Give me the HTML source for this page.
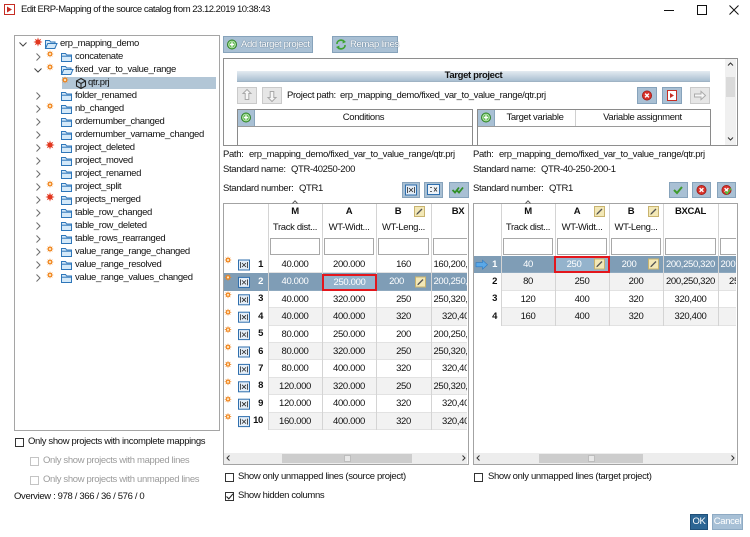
<!DOCTYPE html>
<html><head><meta charset="utf-8"><title>Edit ERP-Mapping</title><style>
*{box-sizing:border-box}
html,body{margin:0;padding:0}
body{width:750px;height:537px;overflow:hidden;background:#fff;font-family:"Liberation Sans",Arial,sans-serif;font-size:9.5px;color:#111;letter-spacing:-0.35px;position:relative}
.a{position:absolute;white-space:nowrap;line-height:12px}
.c{text-align:center}
.b{font-weight:bold}
.btn{position:absolute;background:#a9c0d4;border:1px solid #87a3bb}
.gbtn{position:absolute;background:#e6e6e6;border:1px solid #cacaca}
.cb{position:absolute;width:9px;height:9px;border:1px solid #333;background:#fff}
.vl{position:absolute;width:1px;background:#d4d4d4;z-index:3}
.row{position:absolute;height:17.4px;overflow:hidden}
.cell{position:absolute;top:0;height:100%;border-bottom:1px solid #e2e2e2;text-align:center;line-height:17px;white-space:nowrap;overflow:hidden}
.sel{background:#7f9db6;color:#fff}
.alt{background:#f2f2f2}
.flt{position:absolute;top:238px;height:17px;border:1px solid #a8a8a8;background:#fff}
.sb{position:absolute;background:#ededed}
.th{position:absolute;background:#cdcdcd}
.bt{color:#fff;text-shadow:0 0 1px #5f7a92,0 0 1px #5f7a92}
</style></head><body>

<!-- title -->
<div class="a" style="left:21px;top:4px;letter-spacing:-0.5px">Edit ERP-Mapping of the source catalog from 23.12.2019 10:38:43</div>

<!-- tree -->
<div style="position:absolute;left:14px;top:35px;width:206px;height:396px;border:1px solid #a5a5a5"></div>
<div style="position:absolute;left:62px;top:77px;width:154px;height:12px;background:#b2c6d6"></div>
<div class="a" style="left:60px;top:38px">erp_mapping_demo</div>
<div class="a" style="left:75px;top:51px">concatenate</div>
<div class="a" style="left:75px;top:64px">fixed_var_to_value_range</div>
<div class="a" style="left:88px;top:77px">qtr.prj</div>
<div class="a" style="left:75px;top:90px">folder_renamed</div>
<div class="a" style="left:75px;top:103px">nb_changed</div>
<div class="a" style="left:75px;top:116px">ordernumber_changed</div>
<div class="a" style="left:75px;top:129px">ordernumber_varname_changed</div>
<div class="a" style="left:75px;top:142px">project_deleted</div>
<div class="a" style="left:75px;top:155px">project_moved</div>
<div class="a" style="left:75px;top:168px">project_renamed</div>
<div class="a" style="left:75px;top:181px">project_split</div>
<div class="a" style="left:75px;top:194px">projects_merged</div>
<div class="a" style="left:75px;top:207px">table_row_changed</div>
<div class="a" style="left:75px;top:220px">table_row_deleted</div>
<div class="a" style="left:75px;top:233px">table_rows_rearranged</div>
<div class="a" style="left:75px;top:246px">value_range_range_changed</div>
<div class="a" style="left:75px;top:259px">value_range_resolved</div>
<div class="a" style="left:75px;top:272px">value_range_values_changed</div>

<!-- left bottom options -->
<div class="cb" style="left:15px;top:438px"></div>
<div class="a" style="left:28px;top:436px">Only show projects with incomplete mappings</div>
<div class="cb" style="left:30px;top:457px;border-color:#c4c4c4"></div>
<div class="a" style="left:43px;top:455px;color:#9b9b9b">Only show projects with mapped lines</div>
<div class="cb" style="left:30px;top:476px;border-color:#c4c4c4"></div>
<div class="a" style="left:43px;top:474px;color:#9b9b9b">Only show projects with unmapped lines</div>
<div class="a" style="left:14px;top:491px">Overview : 978 / 366 / 36 / 576 / 0</div>

<!-- top buttons -->
<div class="btn" style="left:223px;top:36px;width:90px;height:17px"></div>
<div class="a bt" style="left:241px;top:38.5px">Add target project</div>
<div class="btn" style="left:332px;top:36px;width:66px;height:17px"></div>
<div class="a bt" style="left:350px;top:38.5px">Remap lines</div>

<!-- target project box -->
<div style="position:absolute;left:223px;top:58px;width:515px;height:88px;border:1px solid #8e8e8e;background:#fff"></div>
<div style="position:absolute;left:725px;top:59px;width:11px;height:86px;background:#f0f0f0"></div>
<div style="position:absolute;left:726px;top:77px;width:9px;height:20px;background:#dadada"></div>
<div style="position:absolute;left:237px;top:71px;width:473px;height:11px;background:linear-gradient(#e4ebf1,#a9bfd1);border-bottom:1px solid #9fb3c4"></div>
<div class="a b c" style="left:237px;top:70px;width:473px">Target project</div>
<div class="gbtn" style="left:237px;top:87px;width:20px;height:17px"></div>
<div class="gbtn" style="left:262px;top:87px;width:20px;height:17px"></div>
<div class="a" style="left:287px;top:90px">Project path:</div>
<div class="a" style="left:340px;top:90px">erp_mapping_demo/fixed_var_to_value_range/qtr.prj</div>
<div class="btn" style="left:637px;top:87px;width:20px;height:17px"></div>
<div class="btn" style="left:662px;top:87px;width:20px;height:17px"></div>
<div class="gbtn" style="left:690px;top:87px;width:20px;height:17px"></div>

<div style="position:absolute;left:237px;top:109px;width:236px;height:36px;border:1px solid #8a8a8a;border-bottom:none"></div>
<div style="position:absolute;left:238px;top:110px;width:17px;height:16px;background:#a9c0d4;border-right:1px solid #8aa5bc"></div>
<div style="position:absolute;left:238px;top:126px;width:234px;height:1px;background:#9a9a9a"></div>
<div class="a c" style="left:255px;top:111.5px;width:217px">Conditions</div>

<div style="position:absolute;left:477px;top:109px;width:234px;height:36px;border:1px solid #8a8a8a;border-bottom:none"></div>
<div style="position:absolute;left:478px;top:110px;width:17px;height:16px;background:#a9c0d4;border-right:1px solid #8aa5bc"></div>
<div style="position:absolute;left:478px;top:126px;width:232px;height:1px;background:#9a9a9a"></div>
<div style="position:absolute;left:575px;top:110px;width:1px;height:16px;background:#d0d0d0"></div>
<div class="a c" style="left:495px;top:111.5px;width:80px">Target variable</div>
<div class="a c" style="left:575px;top:111.5px;width:135px">Variable assignment</div>

<!-- path info -->
<div class="a" style="left:223px;top:149px">Path:</div>
<div class="a" style="left:249px;top:149px">erp_mapping_demo/fixed_var_to_value_range/qtr.prj</div>
<div class="a" style="left:223px;top:164px">Standard name:</div>
<div class="a" style="left:291px;top:164px">QTR-40250-200</div>
<div class="a" style="left:223px;top:183px">Standard number:</div>
<div class="a" style="left:299px;top:183px">QTR1</div>
<div class="btn" style="left:402px;top:182px;width:18px;height:16px"></div>
<div class="btn" style="left:424px;top:182px;width:19px;height:16px"></div>
<div class="btn" style="left:449px;top:182px;width:20px;height:16px"></div>

<div class="a" style="left:473px;top:149px">Path:</div>
<div class="a" style="left:499px;top:149px">erp_mapping_demo/fixed_var_to_value_range/qtr.prj</div>
<div class="a" style="left:473px;top:164px">Standard name:</div>
<div class="a" style="left:541px;top:164px">QTR-40-250-200-1</div>
<div class="a" style="left:473px;top:183px">Standard number:</div>
<div class="a" style="left:549px;top:183px">QTR1</div>
<div class="btn" style="left:669px;top:182px;width:19px;height:16px"></div>
<div class="btn" style="left:692px;top:182px;width:19px;height:16px"></div>
<div class="btn" style="left:717px;top:182px;width:19px;height:16px"></div>

<!-- LEFT TABLE -->
<div style="position:absolute;left:223px;top:203px;width:246px;height:262px;border:1px solid #a3a3a3;background:#fff"></div>
<div class="a b c" style="left:268px;top:206px;width:54px">M</div>
<div class="a b c" style="left:322px;top:206px;width:54px">A</div>
<div class="a b c" style="left:371px;top:206px;width:54px">B</div>
<div class="a b c" style="left:431px;top:206px;width:54px">BX</div>
<div class="a c" style="left:268px;top:222px;width:54px">Track dist...</div>
<div class="a c" style="left:322px;top:222px;width:54px">WT-Widt...</div>
<div class="a c" style="left:376px;top:222px;width:55px">WT-Leng...</div>
<div class="flt" style="left:270px;width:50px"></div>
<div class="flt" style="left:324px;width:50px"></div>
<div class="flt" style="left:378px;width:51px"></div>
<div class="flt" style="left:433px;width:34px;border-right:none"></div>

<div class="row" style="left:224px;top:256px;width:243px">
 <div class="a b" style="left:0;top:2.7px;width:39px;text-align:right">1</div>
 <div class="cell" style="left:44px;width:54px">40.000</div><div class="cell" style="left:98px;width:54px">200.000</div><div class="cell" style="left:152px;width:55px">160</div><div class="cell" style="left:207px;width:54px">160,200,250</div>
</div>
<div class="row sel" style="left:224px;top:273.4px;width:243px">
 <div class="a b" style="left:0;top:2.7px;width:39px;text-align:right">2</div>
 <div class="cell" style="left:44px;width:54px;border-color:#8fa9bf">40.000</div><div class="cell" style="left:98px;width:54px;border-color:#8fa9bf"></div><div class="cell" style="left:152px;width:55px;padding-right:14px;border-color:#8fa9bf">200</div><div class="cell" style="left:207px;width:54px;border-color:#8fa9bf">200,250,320</div>
</div>
<div style="position:absolute;left:322px;top:274px;width:55px;height:17px;border:2px solid #e3161c;background:#94b3cc;color:#fff;text-align:center;line-height:13px;z-index:4;white-space:nowrap">250.000</div>
<div class="row" style="left:224px;top:290.8px;width:243px">
 <div class="a b" style="left:0;top:2.7px;width:39px;text-align:right">3</div>
 <div class="cell" style="left:44px;width:54px">40.000</div><div class="cell" style="left:98px;width:54px">320.000</div><div class="cell" style="left:152px;width:55px">250</div><div class="cell" style="left:207px;width:54px">250,320,400</div>
</div>
<div class="row" style="left:224px;top:308.2px;width:243px">
 <div class="a b" style="left:0;top:2.7px;width:39px;text-align:right">4</div>
 <div class="cell alt" style="left:44px;width:54px">40.000</div><div class="cell alt" style="left:98px;width:54px">400.000</div><div class="cell alt" style="left:152px;width:55px">320</div><div class="cell alt" style="left:207px;width:54px">320,400</div>
</div>
<div class="row" style="left:224px;top:325.6px;width:243px">
 <div class="a b" style="left:0;top:2.7px;width:39px;text-align:right">5</div>
 <div class="cell" style="left:44px;width:54px">80.000</div><div class="cell" style="left:98px;width:54px">250.000</div><div class="cell" style="left:152px;width:55px">200</div><div class="cell" style="left:207px;width:54px">200,250,320</div>
</div>
<div class="row" style="left:224px;top:343px;width:243px">
 <div class="a b" style="left:0;top:2.7px;width:39px;text-align:right">6</div>
 <div class="cell alt" style="left:44px;width:54px">80.000</div><div class="cell alt" style="left:98px;width:54px">320.000</div><div class="cell alt" style="left:152px;width:55px">250</div><div class="cell alt" style="left:207px;width:54px">250,320,400</div>
</div>
<div class="row" style="left:224px;top:360.4px;width:243px">
 <div class="a b" style="left:0;top:2.7px;width:39px;text-align:right">7</div>
 <div class="cell" style="left:44px;width:54px">80.000</div><div class="cell" style="left:98px;width:54px">400.000</div><div class="cell" style="left:152px;width:55px">320</div><div class="cell" style="left:207px;width:54px">320,400</div>
</div>
<div class="row" style="left:224px;top:377.8px;width:243px">
 <div class="a b" style="left:0;top:2.7px;width:39px;text-align:right">8</div>
 <div class="cell alt" style="left:44px;width:54px">120.000</div><div class="cell alt" style="left:98px;width:54px">320.000</div><div class="cell alt" style="left:152px;width:55px">250</div><div class="cell alt" style="left:207px;width:54px">250,320,400</div>
</div>
<div class="row" style="left:224px;top:395.2px;width:243px">
 <div class="a b" style="left:0;top:2.7px;width:39px;text-align:right">9</div>
 <div class="cell" style="left:44px;width:54px">120.000</div><div class="cell" style="left:98px;width:54px">400.000</div><div class="cell" style="left:152px;width:55px">320</div><div class="cell" style="left:207px;width:54px">320,400</div>
</div>
<div class="row" style="left:224px;top:412.6px;width:243px">
 <div class="a b" style="left:0;top:2.7px;width:39px;text-align:right">10</div>
 <div class="cell alt" style="left:44px;width:54px">160.000</div><div class="cell alt" style="left:98px;width:54px">400.000</div><div class="cell alt" style="left:152px;width:55px">320</div><div class="cell alt" style="left:207px;width:54px">320,400</div>
</div>
<div class="vl" style="left:268px;top:204px;height:226px"></div>
<div class="vl" style="left:322px;top:204px;height:226px"></div>
<div class="vl" style="left:376px;top:204px;height:226px"></div>
<div class="vl" style="left:431px;top:204px;height:226px"></div>
<div class="sb" style="left:224px;top:453px;width:243px;height:11px"></div>
<div class="th" style="left:282px;top:454px;width:130px;height:9px"></div>
<div style="position:absolute;left:344px;top:455px;width:7px;height:7px;background:#e8e8e8;border:1px solid #bdbdbd"></div>

<!-- RIGHT TABLE -->
<div style="position:absolute;left:473px;top:203px;width:265px;height:262px;border:1px solid #a3a3a3;background:#fff"></div>
<div class="a b c" style="left:501px;top:206px;width:54px">M</div>
<div class="a b c" style="left:550px;top:206px;width:54px">A</div>
<div class="a b c" style="left:604px;top:206px;width:54px">B</div>
<div class="a b c" style="left:663px;top:206px;width:55px">BXCAL</div>
<div class="a c" style="left:501px;top:222px;width:54px">Track dist...</div>
<div class="a c" style="left:555px;top:222px;width:54px">WT-Widt...</div>
<div class="a c" style="left:609px;top:222px;width:54px">WT-Leng...</div>
<div class="flt" style="left:503px;width:50px"></div>
<div class="flt" style="left:557px;width:50px"></div>
<div class="flt" style="left:611px;width:50px"></div>
<div class="flt" style="left:665px;width:51px"></div>
<div class="flt" style="left:720px;width:16px;border-right:none"></div>

<div class="row sel" style="left:474px;top:256px;width:262px">
 <div class="a b" style="left:0;top:2.7px;width:23px;text-align:right">1</div>
 <div class="cell" style="left:27px;width:54px;border-color:#8fa9bf">40</div><div class="cell" style="left:81px;width:54px;border-color:#8fa9bf"></div><div class="cell" style="left:135px;width:54px;padding-right:14px;border-color:#8fa9bf">200</div><div class="cell" style="left:189px;width:55px;border-color:#8fa9bf">200,250,320</div><div class="cell" style="left:244px;width:54px;border-color:#8fa9bf">200,250,320</div>
</div>
<div style="position:absolute;left:554px;top:256px;width:56px;height:17px;border:2px solid #e3161c;background:#94b3cc;color:#fff;line-height:13px;z-index:4;white-space:nowrap;padding-right:16px;text-align:center">250</div>
<div class="row" style="left:474px;top:273.4px;width:262px">
 <div class="a b" style="left:0;top:2.7px;width:23px;text-align:right">2</div>
 <div class="cell alt" style="left:27px;width:54px">80</div><div class="cell alt" style="left:81px;width:54px">250</div><div class="cell alt" style="left:135px;width:54px">200</div><div class="cell alt" style="left:189px;width:55px">200,250,320</div><div class="cell alt" style="left:244px;width:54px">250,320</div>
</div>
<div class="row" style="left:474px;top:290.8px;width:262px">
 <div class="a b" style="left:0;top:2.7px;width:23px;text-align:right">3</div>
 <div class="cell" style="left:27px;width:54px">120</div><div class="cell" style="left:81px;width:54px">400</div><div class="cell" style="left:135px;width:54px">320</div><div class="cell" style="left:189px;width:55px">320,400</div><div class="cell" style="left:244px;width:54px">320</div>
</div>
<div class="row" style="left:474px;top:308.2px;width:262px">
 <div class="a b" style="left:0;top:2.7px;width:23px;text-align:right">4</div>
 <div class="cell alt" style="left:27px;width:54px">160</div><div class="cell alt" style="left:81px;width:54px">400</div><div class="cell alt" style="left:135px;width:54px">320</div><div class="cell alt" style="left:189px;width:55px">320,400</div><div class="cell alt" style="left:244px;width:54px"></div>
</div>
<div class="vl" style="left:501px;top:204px;height:122px"></div>
<div class="vl" style="left:555px;top:204px;height:122px"></div>
<div class="vl" style="left:609px;top:204px;height:122px"></div>
<div class="vl" style="left:663px;top:204px;height:122px"></div>
<div class="vl" style="left:718px;top:204px;height:122px"></div>
<div class="sb" style="left:474px;top:453px;width:262px;height:11px"></div>
<div class="th" style="left:539px;top:454px;width:104px;height:9px"></div>
<div style="position:absolute;left:588px;top:455px;width:7px;height:7px;background:#e8e8e8;border:1px solid #bdbdbd"></div>

<!-- bottom checkboxes -->
<div class="cb" style="left:225px;top:473px"></div>
<div class="a" style="left:238px;top:471px">Show only unmapped lines (source project)</div>
<div class="cb" style="left:225px;top:492px"></div>
<div class="a" style="left:238px;top:490px">Show hidden columns</div>
<div class="cb" style="left:474px;top:473px"></div>
<div class="a" style="left:488px;top:471px">Show only unmapped lines (target project)</div>

<!-- OK / Cancel -->
<div style="position:absolute;left:690px;top:514px;width:18px;height:16px;background:#2d6694;border:1px solid #1f4f78"></div>
<div class="a c" style="left:690px;top:516px;width:18px;color:#fff">OK</div>
<div style="position:absolute;left:712px;top:514px;width:31px;height:16px;background:#a7c0d6;border:1px solid #8eaac3"></div>
<div class="a c" style="left:712px;top:516px;width:31px;color:#fff">Cancel</div>

<!-- ICON LAYER -->
<svg style="position:absolute;left:0;top:0;z-index:10" width="750" height="537" viewBox="0 0 750 537">
<defs>
<g id="fc"><path d="M0.5,1.5h4l1.2,1.5h4.8v6.5h-10z" fill="#d4e9f9" stroke="#2e76b9"/><path d="M0.5,4.2h10" stroke="#2e76b9"/></g>
<g id="fo"><path d="M0.5,9.5V1.5h4l1.2,1.5h4.3v1.7" fill="#d4e9f9" stroke="#2e76b9"/><path d="M0.5,9.5l2.2,-5h9.3l-2.2,5z" fill="#d4e9f9" stroke="#2e76b9"/></g>
<g id="chr"><path d="M0.5,0.5l3.5,3.5l-3.5,3.5" fill="none" stroke="#6d6d6d"/></g>
<g id="chd"><path d="M0.5,0.5l3.5,3.5l3.5,-3.5" fill="none" stroke="#444"/></g>
<polygon id="rs" points="4.6,0 2,0.85 3.25,3.25 0.85,2 0,4.6 -0.85,2 -3.25,3.25 -2,0.85 -4.6,0 -2,-0.85 -3.25,-3.25 -0.85,-2 0,-4.6 0.85,-2 3.25,-3.25 2,-0.85" fill="#e2371f"/>
<g id="os"><polygon points="3.7,0 1.75,0.72 2.6,2.6 0.72,1.75 0,3.7 -0.72,1.75 -2.6,2.6 -1.75,0.72 -3.7,0 -1.75,-0.72 -2.6,-2.6 -0.72,-1.75 0,-3.7 0.72,-1.75 2.6,-2.6 1.75,-0.72" fill="#f0841c"/><circle r="1.1" fill="#fde7c4"/></g>
<g id="ti"><rect x="0.5" y="0.5" width="11" height="10" fill="#e4eef8" stroke="#2f6fae"/><path d="M2.5,2.5v6M9.5,2.5v6M4,3.5l4,4M8,3.5l-4,4" stroke="#2a2a2a" stroke-width="0.8"/></g>
<g id="pe"><rect x="0.5" y="0.5" width="10" height="10" fill="#f3e8b6" stroke="#c8b36f"/><path d="M3.5,7.5l4.5,-4.5" stroke="#555" stroke-width="1.3"/><path d="M2.3,8.7l0.7,-1.8l1.1,1.1z" fill="#333"/></g>
<g id="gp"><circle r="4.6" fill="#5eb84f" stroke="#2e7d26" stroke-width="0.8"/><circle r="3.3" fill="none" stroke="#cfeec9" stroke-width="0.7"/><path d="M-2.2,0h4.4M0,-2.2v4.4" stroke="#fff" stroke-width="1.4"/></g>
<g id="rx"><circle r="4.6" fill="#d8322b" stroke="#991a14" stroke-width="0.8"/><path d="M-1.9,-1.9L1.9,1.9M1.9,-1.9L-1.9,1.9" stroke="#fff" stroke-width="1.4"/></g>
</defs>

<!-- title icon & controls -->
<rect x="4.5" y="4.5" width="10" height="10" fill="#fff" stroke="#c62d23"/>
<path d="M7,6.5l5,3l-5,3z" fill="#c62d23"/>
<path d="M664,10.5h10" stroke="#111"/>
<rect x="697.5" y="5.5" width="9" height="9" fill="none" stroke="#111"/>
<path d="M729.5,5.5l9,9M738.5,5.5l-9,9" stroke="#111"/>

<!-- tree icons -->
<use href="#chd" x="19" y="42"/><use href="#rs" x="38" y="42"/><use href="#fo" x="45" y="39"/>
<use href="#chr" x="36" y="53"/><use href="#os" x="50" y="54"/><use href="#fc" x="61" y="52"/>
<use href="#chd" x="34" y="68"/><use href="#os" x="50" y="67"/><use href="#fo" x="61" y="65"/>
<use href="#os" x="65" y="80"/>
<path d="M81,78.5L85.5,81V86L81,88.5L76.5,86V81ZM76.5,81L81,83.5L85.5,81M81,83.5V88.5" fill="none" stroke="#222" stroke-width="1.1"/>
<use href="#chr" x="36" y="92"/><use href="#fc" x="61" y="91"/>
<use href="#chr" x="36" y="105"/><use href="#os" x="50" y="106"/><use href="#fc" x="61" y="104"/>
<use href="#chr" x="36" y="118"/><use href="#fc" x="61" y="117"/>
<use href="#chr" x="36" y="131"/><use href="#fc" x="61" y="130"/>
<use href="#chr" x="36" y="144"/><use href="#rs" x="50" y="145"/><use href="#fc" x="61" y="143"/>
<use href="#chr" x="36" y="157"/><use href="#fc" x="61" y="156"/>
<use href="#chr" x="36" y="170"/><use href="#fc" x="61" y="169"/>
<use href="#chr" x="36" y="183"/><use href="#os" x="50" y="184"/><use href="#fc" x="61" y="182"/>
<use href="#chr" x="36" y="196"/><use href="#rs" x="50" y="197"/><use href="#fc" x="61" y="195"/>
<use href="#chr" x="36" y="209"/><use href="#fc" x="61" y="208"/>
<use href="#chr" x="36" y="222"/><use href="#fc" x="61" y="221"/>
<use href="#chr" x="36" y="235"/><use href="#fc" x="61" y="234"/>
<use href="#chr" x="36" y="248"/><use href="#os" x="50" y="249"/><use href="#fc" x="61" y="247"/>
<use href="#chr" x="36" y="261"/><use href="#os" x="50" y="262"/><use href="#fc" x="61" y="260"/>
<use href="#chr" x="36" y="274"/><use href="#os" x="50" y="275"/><use href="#fc" x="61" y="273"/>

<!-- button icons -->
<use href="#gp" x="232" y="44.5"/>
<g fill="none" stroke="#3ea332" stroke-width="1.7"><path d="M337,44a4,3.5 0 0 1 7.5,-2"/><path d="M345,45a4,3.5 0 0 1 -7.5,2"/></g>
<path d="M343,39.5l3,2.5l-3.5,1.5z M339,49.5l-3,-2.5l3.5,-1.5z" fill="#3ea332"/>
<path d="M247,89.5l4,4h-2.2v6h-3.6v-6h-2.2z" fill="#f6f6f6" stroke="#a8a8a8"/>
<path d="M272,101.5l4,-4h-2.2v-6h-3.6v6h-2.2z" fill="#f6f6f6" stroke="#a8a8a8"/>
<use href="#rx" x="647" y="95.5"/>
<rect x="667.5" y="90.5" width="9" height="10" fill="#fff" stroke="#c62d23"/><path d="M670,93l4,2.5l-4,2.5z" fill="#c62d23"/>
<path d="M694.5,94h6.5v-2.6l4.5,4.1l-4.5,4.1v-2.6h-6.5z" fill="#f6f6f6" stroke="#ababab"/>
<use href="#gp" x="246" y="117.5"/>
<use href="#gp" x="486" y="117.5"/>

<!-- std number icons -->
<use href="#ti" x="405" y="184.5"/>
<rect x="427.5" y="184.5" width="12" height="10" fill="#eef3f8" stroke="#2f6fae"/><path d="M430,187.5h2M430,191.5h2M434,187.5l3,4M437,187.5l-3,4" stroke="#333" stroke-width="0.8"/>
<path d="M452.5,190l2.5,2.5l4,-5M456.5,190l2.5,2.5l4,-5" fill="none" stroke="#2f8f25" stroke-width="1.8"/>
<path d="M674,190l3,3l5,-6" fill="none" stroke="#3f9a2c" stroke-width="2"/>
<use href="#rx" x="701.5" y="190"/>
<use href="#rx" x="726.5" y="190"/>
<path d="M725,191.5l2,2l4,-5" fill="none" stroke="#4fc33c" stroke-width="1.6"/>

<!-- left table icons -->
<path d="M292.5,203.5l2.5,-2.7l2.5,2.7" fill="none" stroke="#555"/>
<use href="#pe" x="414" y="206"/>
<use href="#os" x="228" y="260"/><use href="#ti" x="238" y="259.5"/>
<use href="#os" x="228" y="277.4"/><use href="#ti" x="238" y="276.9"/>
<use href="#os" x="228" y="294.8"/><use href="#ti" x="238" y="294.3"/>
<use href="#os" x="228" y="312.2"/><use href="#ti" x="238" y="311.7"/>
<use href="#os" x="228" y="329.6"/><use href="#ti" x="238" y="329.1"/>
<use href="#os" x="228" y="347"/><use href="#ti" x="238" y="346.5"/>
<use href="#os" x="228" y="364.4"/><use href="#ti" x="238" y="363.9"/>
<use href="#os" x="228" y="381.8"/><use href="#ti" x="238" y="381.3"/>
<use href="#os" x="228" y="399.2"/><use href="#ti" x="238" y="398.7"/>
<use href="#os" x="228" y="416.6"/><use href="#ti" x="238" y="416.1"/>
<use href="#pe" x="415" y="276.5"/>
<path d="M229.5,455.5l-2.5,2.5l2.5,2.5M462.5,455.5l2.5,2.5l-2.5,2.5" fill="none" stroke="#333"/>

<!-- right table icons -->
<path d="M525.5,203.5l2.5,-2.7l2.5,2.7" fill="none" stroke="#555"/>
<use href="#pe" x="594" y="206"/>
<use href="#pe" x="648" y="206"/>
<polygon points="476,262.6 482.5,262.6 482.5,260.2 487.5,264.7 482.5,269.2 482.5,266.8 476,266.8" fill="#5aa8e8" stroke="#2d78c0" stroke-width="0.6"/>
<use href="#pe" x="594" y="258.5"/>
<use href="#pe" x="648" y="258.5"/>
<path d="M479.5,455.5l-2.5,2.5l2.5,2.5M731.5,455.5l2.5,2.5l-2.5,2.5" fill="none" stroke="#333"/>

<!-- target box scrollbar arrows -->
<path d="M728,65.5l2.5,-2.5l2.5,2.5M728,137.5l2.5,2.5l2.5,-2.5" fill="none" stroke="#333"/>

<!-- check mark -->
<path d="M226.5,496.5l2.3,2.3l4.2,-5" fill="none" stroke="#222" stroke-width="1.1"/>
</svg>
</body></html>
